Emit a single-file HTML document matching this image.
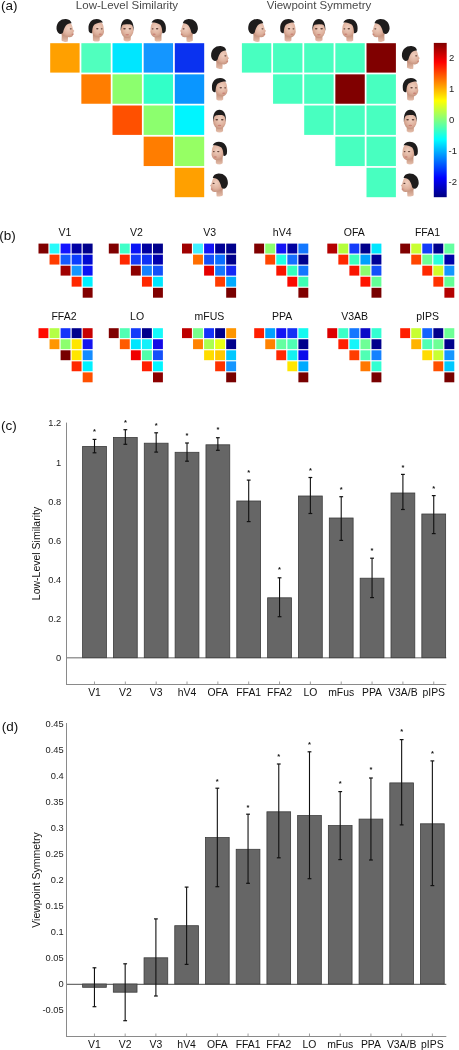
<!DOCTYPE html>
<html><head><meta charset="utf-8"><title>Figure</title>
<style>
html,body{margin:0;padding:0;background:#fff;}
body{width:459px;height:1050px;overflow:hidden;}
svg{display:block;font-family:"Liberation Sans", Arial, sans-serif;}
</style></head>
<body>
<svg width="459" height="1050" viewBox="0 0 459 1050">
<rect width="459" height="1050" fill="#fff"/>
<text x="0.90" y="9.70" font-size="13.5" text-anchor="start" fill="#111" >(a)</text>
<text x="-0.80" y="240.00" font-size="13.5" text-anchor="start" fill="#111" >(b)</text>
<text x="0.90" y="429.70" font-size="13.5" text-anchor="start" fill="#111" >(c)</text>
<text x="1.80" y="731.30" font-size="13.5" text-anchor="start" fill="#111" >(d)</text>
<defs><radialGradient id="skinG" cx="0.55" cy="0.4" r="0.65"><stop offset="0" stop-color="#f0d0c0"/><stop offset="0.6" stop-color="#dfb29e"/><stop offset="1" stop-color="#c18d78"/></radialGradient><linearGradient id="neckG" x1="0" y1="0" x2="0" y2="1"><stop offset="0" stop-color="#bb8670"/><stop offset="1" stop-color="#e6bfac"/></linearGradient></defs>
<text x="127.00" y="9.20" font-size="11.5" text-anchor="middle" fill="#4a4a4a" >Low-Level Similarity</text>
<text x="319.00" y="9.20" font-size="11.5" text-anchor="middle" fill="#4a4a4a" >Viewpoint Symmetry</text>
<rect x="50.20" y="43.20" width="29.40" height="29.40" fill="rgb(255,160,0)" />
<rect x="81.35" y="43.20" width="29.40" height="29.40" fill="rgb(80,255,190)" />
<rect x="112.50" y="43.20" width="29.40" height="29.40" fill="rgb(0,230,255)" />
<rect x="143.65" y="43.20" width="29.40" height="29.40" fill="rgb(20,150,255)" />
<rect x="174.80" y="43.20" width="29.40" height="29.40" fill="rgb(10,50,240)" />
<rect x="81.35" y="74.35" width="29.40" height="29.40" fill="rgb(255,125,0)" />
<rect x="112.50" y="74.35" width="29.40" height="29.40" fill="rgb(140,255,110)" />
<rect x="143.65" y="74.35" width="29.40" height="29.40" fill="rgb(50,255,200)" />
<rect x="174.80" y="74.35" width="29.40" height="29.40" fill="rgb(10,150,255)" />
<rect x="112.50" y="105.50" width="29.40" height="29.40" fill="rgb(255,80,0)" />
<rect x="143.65" y="105.50" width="29.40" height="29.40" fill="rgb(140,255,110)" />
<rect x="174.80" y="105.50" width="29.40" height="29.40" fill="rgb(0,245,255)" />
<rect x="143.65" y="136.65" width="29.40" height="29.40" fill="rgb(255,125,0)" />
<rect x="174.80" y="136.65" width="29.40" height="29.40" fill="rgb(150,255,100)" />
<rect x="174.80" y="167.80" width="29.40" height="29.40" fill="rgb(255,160,0)" />
<g transform="translate(56.50,18.90) scale(1.05)"><path d="M4.6,13.5 L9.5,15.5 L11,16.5 L10.8,21.6 C9,22.3 6.5,21.8 4.8,20.5 L5,16 Z" fill="url(#neckG)"/><path d="M5,5 C8,2 13,2.5 14.5,5.5 C15.3,7.5 15.5,9 15.8,10 L17,11.6 L16,12.5 L16.3,14 L15.8,14.6 C16,16.5 14,17.8 12,17.5 C10,17.3 8,16.5 6.5,15.5 C4.6,14.2 4,9 5,5 Z" fill="url(#skinG)"/><path d="M0,9 C0,3 4,-0.2 9,0 C12,0.2 14,1.8 14.4,4.2 C12,4 10,4.8 8.8,6.6 C7.6,8.4 6.8,10.5 6.4,12.2 C5.8,14.6 3.2,15 1.6,13.2 C0.6,12 0,10.5 0,9 Z" fill="#1e1c1c"/><ellipse cx="13.6" cy="9.4" rx="1" ry="0.6" fill="#5e3e34"/><ellipse cx="15.4" cy="14.8" rx="0.9" ry="0.6" fill="#c98276"/></g>
<g transform="translate(87.65,18.90) scale(1.05)"><path d="M5,14 L5,20.5 C7,22 10,22 11.5,20.5 L11.5,16 Z" fill="url(#neckG)"/><path d="M3.5,7 C4,3 8,2 11,2.5 C14,3 15.3,6 15.3,9.5 L15.6,12 C15.3,15 13.5,17.5 11,17.5 C8,17.5 5,15.5 4,12.5 C3.5,11 3.4,9 3.5,7 Z" fill="url(#skinG)"/><path d="M0.8,9 C0.6,3 4.5,0 8.5,0 C11.5,0 13.8,1.5 14.5,3.5 C12,3.4 8.5,3.8 6.2,5.6 C4.8,7 4.4,10 4.2,13.4 C2.8,14 1.4,12.8 1,11.5 Z" fill="#1e1c1c"/><ellipse cx="9.2" cy="9.4" rx="1.2" ry="0.65" fill="#5e3e34"/><ellipse cx="13.4" cy="9.4" rx="0.9" ry="0.6" fill="#5e3e34"/><ellipse cx="12" cy="14.6" rx="1.5" ry="0.65" fill="#c98276"/></g>
<g transform="translate(118.80,18.90) scale(1.05)"><path d="M4.6,14 L4.6,20.4 C6.5,21.9 9.5,21.9 11.4,20.4 L11.4,14 Z" fill="url(#neckG)"/><ellipse cx="8" cy="10.6" rx="6.1" ry="7.7" fill="url(#skinG)"/><path d="M1.9,11.5 C1.4,4 4,0 8,0 C12,0 14.6,4 14.1,11.5 C13.6,8.2 13.2,6.2 12,5.6 C10,4.8 6,4.8 4,5.6 C2.8,6.2 2.4,8.2 1.9,11.5 Z" fill="#1e1c1c"/><ellipse cx="5.4" cy="9.4" rx="1.3" ry="0.7" fill="#5e3e34"/><ellipse cx="10.6" cy="9.4" rx="1.3" ry="0.7" fill="#5e3e34"/><ellipse cx="8" cy="15" rx="1.8" ry="0.7" fill="#c98276"/></g>
<g transform="translate(149.95,18.90) scale(1.05)"><g transform="translate(16,0) scale(-1,1)"><path d="M5,14 L5,20.5 C7,22 10,22 11.5,20.5 L11.5,16 Z" fill="url(#neckG)"/><path d="M3.5,7 C4,3 8,2 11,2.5 C14,3 15.3,6 15.3,9.5 L15.6,12 C15.3,15 13.5,17.5 11,17.5 C8,17.5 5,15.5 4,12.5 C3.5,11 3.4,9 3.5,7 Z" fill="url(#skinG)"/><path d="M0.8,9 C0.6,3 4.5,0 8.5,0 C11.5,0 13.8,1.5 14.5,3.5 C12,3.4 8.5,3.8 6.2,5.6 C4.8,7 4.4,10 4.2,13.4 C2.8,14 1.4,12.8 1,11.5 Z" fill="#1e1c1c"/><ellipse cx="9.2" cy="9.4" rx="1.2" ry="0.65" fill="#5e3e34"/><ellipse cx="13.4" cy="9.4" rx="0.9" ry="0.6" fill="#5e3e34"/><ellipse cx="12" cy="14.6" rx="1.5" ry="0.65" fill="#c98276"/></g></g>
<g transform="translate(181.10,18.90) scale(1.05)"><g transform="translate(16,0) scale(-1,1)"><path d="M4.6,13.5 L9.5,15.5 L11,16.5 L10.8,21.6 C9,22.3 6.5,21.8 4.8,20.5 L5,16 Z" fill="url(#neckG)"/><path d="M5,5 C8,2 13,2.5 14.5,5.5 C15.3,7.5 15.5,9 15.8,10 L17,11.6 L16,12.5 L16.3,14 L15.8,14.6 C16,16.5 14,17.8 12,17.5 C10,17.3 8,16.5 6.5,15.5 C4.6,14.2 4,9 5,5 Z" fill="url(#skinG)"/><path d="M0,9 C0,3 4,-0.2 9,0 C12,0.2 14,1.8 14.4,4.2 C12,4 10,4.8 8.8,6.6 C7.6,8.4 6.8,10.5 6.4,12.2 C5.8,14.6 3.2,15 1.6,13.2 C0.6,12 0,10.5 0,9 Z" fill="#1e1c1c"/><ellipse cx="13.6" cy="9.4" rx="1" ry="0.6" fill="#5e3e34"/><ellipse cx="15.4" cy="14.8" rx="0.9" ry="0.6" fill="#c98276"/></g></g>
<g transform="translate(211.10,46.00) scale(1.05)"><path d="M4.6,13.5 L9.5,15.5 L11,16.5 L10.8,21.6 C9,22.3 6.5,21.8 4.8,20.5 L5,16 Z" fill="url(#neckG)"/><path d="M5,5 C8,2 13,2.5 14.5,5.5 C15.3,7.5 15.5,9 15.8,10 L17,11.6 L16,12.5 L16.3,14 L15.8,14.6 C16,16.5 14,17.8 12,17.5 C10,17.3 8,16.5 6.5,15.5 C4.6,14.2 4,9 5,5 Z" fill="url(#skinG)"/><path d="M0,9 C0,3 4,-0.2 9,0 C12,0.2 14,1.8 14.4,4.2 C12,4 10,4.8 8.8,6.6 C7.6,8.4 6.8,10.5 6.4,12.2 C5.8,14.6 3.2,15 1.6,13.2 C0.6,12 0,10.5 0,9 Z" fill="#1e1c1c"/><ellipse cx="13.6" cy="9.4" rx="1" ry="0.6" fill="#5e3e34"/><ellipse cx="15.4" cy="14.8" rx="0.9" ry="0.6" fill="#c98276"/></g>
<g transform="translate(211.10,77.90) scale(1.05)"><path d="M5,14 L5,20.5 C7,22 10,22 11.5,20.5 L11.5,16 Z" fill="url(#neckG)"/><path d="M3.5,7 C4,3 8,2 11,2.5 C14,3 15.3,6 15.3,9.5 L15.6,12 C15.3,15 13.5,17.5 11,17.5 C8,17.5 5,15.5 4,12.5 C3.5,11 3.4,9 3.5,7 Z" fill="url(#skinG)"/><path d="M0.8,9 C0.6,3 4.5,0 8.5,0 C11.5,0 13.8,1.5 14.5,3.5 C12,3.4 8.5,3.8 6.2,5.6 C4.8,7 4.4,10 4.2,13.4 C2.8,14 1.4,12.8 1,11.5 Z" fill="#1e1c1c"/><ellipse cx="9.2" cy="9.4" rx="1.2" ry="0.65" fill="#5e3e34"/><ellipse cx="13.4" cy="9.4" rx="0.9" ry="0.6" fill="#5e3e34"/><ellipse cx="12" cy="14.6" rx="1.5" ry="0.65" fill="#c98276"/></g>
<g transform="translate(211.10,109.80) scale(1.05)"><path d="M4.6,14 L4.6,20.4 C6.5,21.9 9.5,21.9 11.4,20.4 L11.4,14 Z" fill="url(#neckG)"/><ellipse cx="8" cy="10.6" rx="6.1" ry="7.7" fill="url(#skinG)"/><path d="M1.9,11.5 C1.4,4 4,0 8,0 C12,0 14.6,4 14.1,11.5 C13.6,8.2 13.2,6.2 12,5.6 C10,4.8 6,4.8 4,5.6 C2.8,6.2 2.4,8.2 1.9,11.5 Z" fill="#1e1c1c"/><ellipse cx="5.4" cy="9.4" rx="1.3" ry="0.7" fill="#5e3e34"/><ellipse cx="10.6" cy="9.4" rx="1.3" ry="0.7" fill="#5e3e34"/><ellipse cx="8" cy="15" rx="1.8" ry="0.7" fill="#c98276"/></g>
<g transform="translate(211.10,141.70) scale(1.05)"><g transform="translate(16,0) scale(-1,1)"><path d="M5,14 L5,20.5 C7,22 10,22 11.5,20.5 L11.5,16 Z" fill="url(#neckG)"/><path d="M3.5,7 C4,3 8,2 11,2.5 C14,3 15.3,6 15.3,9.5 L15.6,12 C15.3,15 13.5,17.5 11,17.5 C8,17.5 5,15.5 4,12.5 C3.5,11 3.4,9 3.5,7 Z" fill="url(#skinG)"/><path d="M0.8,9 C0.6,3 4.5,0 8.5,0 C11.5,0 13.8,1.5 14.5,3.5 C12,3.4 8.5,3.8 6.2,5.6 C4.8,7 4.4,10 4.2,13.4 C2.8,14 1.4,12.8 1,11.5 Z" fill="#1e1c1c"/><ellipse cx="9.2" cy="9.4" rx="1.2" ry="0.65" fill="#5e3e34"/><ellipse cx="13.4" cy="9.4" rx="0.9" ry="0.6" fill="#5e3e34"/><ellipse cx="12" cy="14.6" rx="1.5" ry="0.65" fill="#c98276"/></g></g>
<g transform="translate(211.10,173.60) scale(1.05)"><g transform="translate(16,0) scale(-1,1)"><path d="M4.6,13.5 L9.5,15.5 L11,16.5 L10.8,21.6 C9,22.3 6.5,21.8 4.8,20.5 L5,16 Z" fill="url(#neckG)"/><path d="M5,5 C8,2 13,2.5 14.5,5.5 C15.3,7.5 15.5,9 15.8,10 L17,11.6 L16,12.5 L16.3,14 L15.8,14.6 C16,16.5 14,17.8 12,17.5 C10,17.3 8,16.5 6.5,15.5 C4.6,14.2 4,9 5,5 Z" fill="url(#skinG)"/><path d="M0,9 C0,3 4,-0.2 9,0 C12,0.2 14,1.8 14.4,4.2 C12,4 10,4.8 8.8,6.6 C7.6,8.4 6.8,10.5 6.4,12.2 C5.8,14.6 3.2,15 1.6,13.2 C0.6,12 0,10.5 0,9 Z" fill="#1e1c1c"/><ellipse cx="13.6" cy="9.4" rx="1" ry="0.6" fill="#5e3e34"/><ellipse cx="15.4" cy="14.8" rx="0.9" ry="0.6" fill="#c98276"/></g></g>
<rect x="241.90" y="43.20" width="29.40" height="29.40" fill="rgb(72,255,192)" />
<rect x="273.05" y="43.20" width="29.40" height="29.40" fill="rgb(72,255,192)" />
<rect x="304.20" y="43.20" width="29.40" height="29.40" fill="rgb(72,255,192)" />
<rect x="335.35" y="43.20" width="29.40" height="29.40" fill="rgb(72,255,192)" />
<rect x="366.50" y="43.20" width="29.40" height="29.40" fill="rgb(128,0,0)" />
<rect x="273.05" y="74.35" width="29.40" height="29.40" fill="rgb(72,255,192)" />
<rect x="304.20" y="74.35" width="29.40" height="29.40" fill="rgb(72,255,192)" />
<rect x="335.35" y="74.35" width="29.40" height="29.40" fill="rgb(128,0,0)" />
<rect x="366.50" y="74.35" width="29.40" height="29.40" fill="rgb(72,255,192)" />
<rect x="304.20" y="105.50" width="29.40" height="29.40" fill="rgb(72,255,192)" />
<rect x="335.35" y="105.50" width="29.40" height="29.40" fill="rgb(72,255,192)" />
<rect x="366.50" y="105.50" width="29.40" height="29.40" fill="rgb(72,255,192)" />
<rect x="335.35" y="136.65" width="29.40" height="29.40" fill="rgb(72,255,192)" />
<rect x="366.50" y="136.65" width="29.40" height="29.40" fill="rgb(72,255,192)" />
<rect x="366.50" y="167.80" width="29.40" height="29.40" fill="rgb(72,255,192)" />
<g transform="translate(248.20,18.90) scale(1.05)"><path d="M4.6,13.5 L9.5,15.5 L11,16.5 L10.8,21.6 C9,22.3 6.5,21.8 4.8,20.5 L5,16 Z" fill="url(#neckG)"/><path d="M5,5 C8,2 13,2.5 14.5,5.5 C15.3,7.5 15.5,9 15.8,10 L17,11.6 L16,12.5 L16.3,14 L15.8,14.6 C16,16.5 14,17.8 12,17.5 C10,17.3 8,16.5 6.5,15.5 C4.6,14.2 4,9 5,5 Z" fill="url(#skinG)"/><path d="M0,9 C0,3 4,-0.2 9,0 C12,0.2 14,1.8 14.4,4.2 C12,4 10,4.8 8.8,6.6 C7.6,8.4 6.8,10.5 6.4,12.2 C5.8,14.6 3.2,15 1.6,13.2 C0.6,12 0,10.5 0,9 Z" fill="#1e1c1c"/><ellipse cx="13.6" cy="9.4" rx="1" ry="0.6" fill="#5e3e34"/><ellipse cx="15.4" cy="14.8" rx="0.9" ry="0.6" fill="#c98276"/></g>
<g transform="translate(279.35,18.90) scale(1.05)"><path d="M5,14 L5,20.5 C7,22 10,22 11.5,20.5 L11.5,16 Z" fill="url(#neckG)"/><path d="M3.5,7 C4,3 8,2 11,2.5 C14,3 15.3,6 15.3,9.5 L15.6,12 C15.3,15 13.5,17.5 11,17.5 C8,17.5 5,15.5 4,12.5 C3.5,11 3.4,9 3.5,7 Z" fill="url(#skinG)"/><path d="M0.8,9 C0.6,3 4.5,0 8.5,0 C11.5,0 13.8,1.5 14.5,3.5 C12,3.4 8.5,3.8 6.2,5.6 C4.8,7 4.4,10 4.2,13.4 C2.8,14 1.4,12.8 1,11.5 Z" fill="#1e1c1c"/><ellipse cx="9.2" cy="9.4" rx="1.2" ry="0.65" fill="#5e3e34"/><ellipse cx="13.4" cy="9.4" rx="0.9" ry="0.6" fill="#5e3e34"/><ellipse cx="12" cy="14.6" rx="1.5" ry="0.65" fill="#c98276"/></g>
<g transform="translate(310.50,18.90) scale(1.05)"><path d="M4.6,14 L4.6,20.4 C6.5,21.9 9.5,21.9 11.4,20.4 L11.4,14 Z" fill="url(#neckG)"/><ellipse cx="8" cy="10.6" rx="6.1" ry="7.7" fill="url(#skinG)"/><path d="M1.9,11.5 C1.4,4 4,0 8,0 C12,0 14.6,4 14.1,11.5 C13.6,8.2 13.2,6.2 12,5.6 C10,4.8 6,4.8 4,5.6 C2.8,6.2 2.4,8.2 1.9,11.5 Z" fill="#1e1c1c"/><ellipse cx="5.4" cy="9.4" rx="1.3" ry="0.7" fill="#5e3e34"/><ellipse cx="10.6" cy="9.4" rx="1.3" ry="0.7" fill="#5e3e34"/><ellipse cx="8" cy="15" rx="1.8" ry="0.7" fill="#c98276"/></g>
<g transform="translate(341.65,18.90) scale(1.05)"><g transform="translate(16,0) scale(-1,1)"><path d="M5,14 L5,20.5 C7,22 10,22 11.5,20.5 L11.5,16 Z" fill="url(#neckG)"/><path d="M3.5,7 C4,3 8,2 11,2.5 C14,3 15.3,6 15.3,9.5 L15.6,12 C15.3,15 13.5,17.5 11,17.5 C8,17.5 5,15.5 4,12.5 C3.5,11 3.4,9 3.5,7 Z" fill="url(#skinG)"/><path d="M0.8,9 C0.6,3 4.5,0 8.5,0 C11.5,0 13.8,1.5 14.5,3.5 C12,3.4 8.5,3.8 6.2,5.6 C4.8,7 4.4,10 4.2,13.4 C2.8,14 1.4,12.8 1,11.5 Z" fill="#1e1c1c"/><ellipse cx="9.2" cy="9.4" rx="1.2" ry="0.65" fill="#5e3e34"/><ellipse cx="13.4" cy="9.4" rx="0.9" ry="0.6" fill="#5e3e34"/><ellipse cx="12" cy="14.6" rx="1.5" ry="0.65" fill="#c98276"/></g></g>
<g transform="translate(372.80,18.90) scale(1.05)"><g transform="translate(16,0) scale(-1,1)"><path d="M4.6,13.5 L9.5,15.5 L11,16.5 L10.8,21.6 C9,22.3 6.5,21.8 4.8,20.5 L5,16 Z" fill="url(#neckG)"/><path d="M5,5 C8,2 13,2.5 14.5,5.5 C15.3,7.5 15.5,9 15.8,10 L17,11.6 L16,12.5 L16.3,14 L15.8,14.6 C16,16.5 14,17.8 12,17.5 C10,17.3 8,16.5 6.5,15.5 C4.6,14.2 4,9 5,5 Z" fill="url(#skinG)"/><path d="M0,9 C0,3 4,-0.2 9,0 C12,0.2 14,1.8 14.4,4.2 C12,4 10,4.8 8.8,6.6 C7.6,8.4 6.8,10.5 6.4,12.2 C5.8,14.6 3.2,15 1.6,13.2 C0.6,12 0,10.5 0,9 Z" fill="#1e1c1c"/><ellipse cx="13.6" cy="9.4" rx="1" ry="0.6" fill="#5e3e34"/><ellipse cx="15.4" cy="14.8" rx="0.9" ry="0.6" fill="#c98276"/></g></g>
<g transform="translate(401.90,46.00) scale(1.05)"><path d="M4.6,13.5 L9.5,15.5 L11,16.5 L10.8,21.6 C9,22.3 6.5,21.8 4.8,20.5 L5,16 Z" fill="url(#neckG)"/><path d="M5,5 C8,2 13,2.5 14.5,5.5 C15.3,7.5 15.5,9 15.8,10 L17,11.6 L16,12.5 L16.3,14 L15.8,14.6 C16,16.5 14,17.8 12,17.5 C10,17.3 8,16.5 6.5,15.5 C4.6,14.2 4,9 5,5 Z" fill="url(#skinG)"/><path d="M0,9 C0,3 4,-0.2 9,0 C12,0.2 14,1.8 14.4,4.2 C12,4 10,4.8 8.8,6.6 C7.6,8.4 6.8,10.5 6.4,12.2 C5.8,14.6 3.2,15 1.6,13.2 C0.6,12 0,10.5 0,9 Z" fill="#1e1c1c"/><ellipse cx="13.6" cy="9.4" rx="1" ry="0.6" fill="#5e3e34"/><ellipse cx="15.4" cy="14.8" rx="0.9" ry="0.6" fill="#c98276"/></g>
<g transform="translate(401.90,77.90) scale(1.05)"><path d="M5,14 L5,20.5 C7,22 10,22 11.5,20.5 L11.5,16 Z" fill="url(#neckG)"/><path d="M3.5,7 C4,3 8,2 11,2.5 C14,3 15.3,6 15.3,9.5 L15.6,12 C15.3,15 13.5,17.5 11,17.5 C8,17.5 5,15.5 4,12.5 C3.5,11 3.4,9 3.5,7 Z" fill="url(#skinG)"/><path d="M0.8,9 C0.6,3 4.5,0 8.5,0 C11.5,0 13.8,1.5 14.5,3.5 C12,3.4 8.5,3.8 6.2,5.6 C4.8,7 4.4,10 4.2,13.4 C2.8,14 1.4,12.8 1,11.5 Z" fill="#1e1c1c"/><ellipse cx="9.2" cy="9.4" rx="1.2" ry="0.65" fill="#5e3e34"/><ellipse cx="13.4" cy="9.4" rx="0.9" ry="0.6" fill="#5e3e34"/><ellipse cx="12" cy="14.6" rx="1.5" ry="0.65" fill="#c98276"/></g>
<g transform="translate(401.90,109.80) scale(1.05)"><path d="M4.6,14 L4.6,20.4 C6.5,21.9 9.5,21.9 11.4,20.4 L11.4,14 Z" fill="url(#neckG)"/><ellipse cx="8" cy="10.6" rx="6.1" ry="7.7" fill="url(#skinG)"/><path d="M1.9,11.5 C1.4,4 4,0 8,0 C12,0 14.6,4 14.1,11.5 C13.6,8.2 13.2,6.2 12,5.6 C10,4.8 6,4.8 4,5.6 C2.8,6.2 2.4,8.2 1.9,11.5 Z" fill="#1e1c1c"/><ellipse cx="5.4" cy="9.4" rx="1.3" ry="0.7" fill="#5e3e34"/><ellipse cx="10.6" cy="9.4" rx="1.3" ry="0.7" fill="#5e3e34"/><ellipse cx="8" cy="15" rx="1.8" ry="0.7" fill="#c98276"/></g>
<g transform="translate(401.90,141.70) scale(1.05)"><g transform="translate(16,0) scale(-1,1)"><path d="M5,14 L5,20.5 C7,22 10,22 11.5,20.5 L11.5,16 Z" fill="url(#neckG)"/><path d="M3.5,7 C4,3 8,2 11,2.5 C14,3 15.3,6 15.3,9.5 L15.6,12 C15.3,15 13.5,17.5 11,17.5 C8,17.5 5,15.5 4,12.5 C3.5,11 3.4,9 3.5,7 Z" fill="url(#skinG)"/><path d="M0.8,9 C0.6,3 4.5,0 8.5,0 C11.5,0 13.8,1.5 14.5,3.5 C12,3.4 8.5,3.8 6.2,5.6 C4.8,7 4.4,10 4.2,13.4 C2.8,14 1.4,12.8 1,11.5 Z" fill="#1e1c1c"/><ellipse cx="9.2" cy="9.4" rx="1.2" ry="0.65" fill="#5e3e34"/><ellipse cx="13.4" cy="9.4" rx="0.9" ry="0.6" fill="#5e3e34"/><ellipse cx="12" cy="14.6" rx="1.5" ry="0.65" fill="#c98276"/></g></g>
<g transform="translate(401.90,173.60) scale(1.05)"><g transform="translate(16,0) scale(-1,1)"><path d="M4.6,13.5 L9.5,15.5 L11,16.5 L10.8,21.6 C9,22.3 6.5,21.8 4.8,20.5 L5,16 Z" fill="url(#neckG)"/><path d="M5,5 C8,2 13,2.5 14.5,5.5 C15.3,7.5 15.5,9 15.8,10 L17,11.6 L16,12.5 L16.3,14 L15.8,14.6 C16,16.5 14,17.8 12,17.5 C10,17.3 8,16.5 6.5,15.5 C4.6,14.2 4,9 5,5 Z" fill="url(#skinG)"/><path d="M0,9 C0,3 4,-0.2 9,0 C12,0.2 14,1.8 14.4,4.2 C12,4 10,4.8 8.8,6.6 C7.6,8.4 6.8,10.5 6.4,12.2 C5.8,14.6 3.2,15 1.6,13.2 C0.6,12 0,10.5 0,9 Z" fill="#1e1c1c"/><ellipse cx="13.6" cy="9.4" rx="1" ry="0.6" fill="#5e3e34"/><ellipse cx="15.4" cy="14.8" rx="0.9" ry="0.6" fill="#c98276"/></g></g>
<defs><linearGradient id="jet" x1="0" y1="0" x2="0" y2="1"><stop offset="0" stop-color="#800000"/><stop offset="0.125" stop-color="#ff0000"/><stop offset="0.375" stop-color="#ffff00"/><stop offset="0.5" stop-color="#80ff80"/><stop offset="0.625" stop-color="#00ffff"/><stop offset="0.875" stop-color="#0000ff"/><stop offset="1" stop-color="#000080"/></linearGradient></defs>
<rect x="433.80" y="42.90" width="12.90" height="154.30" fill="url(#jet)" />
<text x="449.00" y="60.80" font-size="9.5" text-anchor="start" fill="#222" >2</text>
<text x="449.00" y="92.20" font-size="9.5" text-anchor="start" fill="#222" >1</text>
<text x="449.00" y="122.60" font-size="9.5" text-anchor="start" fill="#222" >0</text>
<text x="448.60" y="154.00" font-size="9.5" text-anchor="start" fill="#222" >-1</text>
<text x="448.60" y="184.70" font-size="9.5" text-anchor="start" fill="#222" >-2</text>
<rect x="38.50" y="243.60" width="9.90" height="9.90" fill="rgb(128,0,0)" />
<rect x="49.55" y="243.60" width="9.90" height="9.90" fill="rgb(40,250,250)" />
<rect x="60.60" y="243.60" width="9.90" height="9.90" fill="rgb(20,20,255)" />
<rect x="71.65" y="243.60" width="9.90" height="9.90" fill="rgb(0,0,165)" />
<rect x="82.70" y="243.60" width="9.90" height="9.90" fill="rgb(0,0,140)" />
<rect x="49.55" y="254.65" width="9.90" height="9.90" fill="rgb(255,60,0)" />
<rect x="60.60" y="254.65" width="9.90" height="9.90" fill="rgb(20,90,255)" />
<rect x="71.65" y="254.65" width="9.90" height="9.90" fill="rgb(10,60,255)" />
<rect x="82.70" y="254.65" width="9.90" height="9.90" fill="rgb(0,10,210)" />
<rect x="60.60" y="265.70" width="9.90" height="9.90" fill="rgb(160,0,0)" />
<rect x="71.65" y="265.70" width="9.90" height="9.90" fill="rgb(20,150,255)" />
<rect x="82.70" y="265.70" width="9.90" height="9.90" fill="rgb(10,20,245)" />
<rect x="71.65" y="276.75" width="9.90" height="9.90" fill="rgb(255,40,0)" />
<rect x="82.70" y="276.75" width="9.90" height="9.90" fill="rgb(0,240,255)" />
<rect x="82.70" y="287.80" width="9.90" height="9.90" fill="rgb(130,0,0)" />
<text x="64.80" y="235.90" font-size="10.5" text-anchor="middle" fill="#111" >V1</text>
<rect x="108.80" y="243.60" width="9.90" height="9.90" fill="rgb(128,0,0)" />
<rect x="119.85" y="243.60" width="9.90" height="9.90" fill="rgb(64,255,200)" />
<rect x="130.90" y="243.60" width="9.90" height="9.90" fill="rgb(10,20,245)" />
<rect x="141.95" y="243.60" width="9.90" height="9.90" fill="rgb(0,0,160)" />
<rect x="153.00" y="243.60" width="9.90" height="9.90" fill="rgb(0,0,140)" />
<rect x="119.85" y="254.65" width="9.90" height="9.90" fill="rgb(255,40,0)" />
<rect x="130.90" y="254.65" width="9.90" height="9.90" fill="rgb(20,60,250)" />
<rect x="141.95" y="254.65" width="9.90" height="9.90" fill="rgb(15,50,245)" />
<rect x="153.00" y="254.65" width="9.90" height="9.90" fill="rgb(0,0,175)" />
<rect x="130.90" y="265.70" width="9.90" height="9.90" fill="rgb(140,0,0)" />
<rect x="141.95" y="265.70" width="9.90" height="9.90" fill="rgb(20,130,255)" />
<rect x="153.00" y="265.70" width="9.90" height="9.90" fill="rgb(20,80,250)" />
<rect x="141.95" y="276.75" width="9.90" height="9.90" fill="rgb(255,40,0)" />
<rect x="153.00" y="276.75" width="9.90" height="9.90" fill="rgb(0,230,255)" />
<rect x="153.00" y="287.80" width="9.90" height="9.90" fill="rgb(128,0,0)" />
<text x="136.50" y="235.90" font-size="10.5" text-anchor="middle" fill="#111" >V2</text>
<rect x="182.00" y="243.60" width="9.90" height="9.90" fill="rgb(160,0,0)" />
<rect x="193.05" y="243.60" width="9.90" height="9.90" fill="rgb(64,240,255)" />
<rect x="204.10" y="243.60" width="9.90" height="9.90" fill="rgb(20,20,245)" />
<rect x="215.15" y="243.60" width="9.90" height="9.90" fill="rgb(0,0,150)" />
<rect x="226.20" y="243.60" width="9.90" height="9.90" fill="rgb(0,0,140)" />
<rect x="193.05" y="254.65" width="9.90" height="9.90" fill="rgb(255,110,0)" />
<rect x="204.10" y="254.65" width="9.90" height="9.90" fill="rgb(20,80,250)" />
<rect x="215.15" y="254.65" width="9.90" height="9.90" fill="rgb(10,110,255)" />
<rect x="226.20" y="254.65" width="9.90" height="9.90" fill="rgb(0,0,140)" />
<rect x="204.10" y="265.70" width="9.90" height="9.90" fill="rgb(230,0,0)" />
<rect x="215.15" y="265.70" width="9.90" height="9.90" fill="rgb(20,120,255)" />
<rect x="226.20" y="265.70" width="9.90" height="9.90" fill="rgb(20,40,245)" />
<rect x="215.15" y="276.75" width="9.90" height="9.90" fill="rgb(255,60,0)" />
<rect x="226.20" y="276.75" width="9.90" height="9.90" fill="rgb(0,170,255)" />
<rect x="226.20" y="287.80" width="9.90" height="9.90" fill="rgb(120,0,0)" />
<text x="209.70" y="235.90" font-size="10.5" text-anchor="middle" fill="#111" >V3</text>
<rect x="254.20" y="243.60" width="9.90" height="9.90" fill="rgb(128,0,0)" />
<rect x="265.25" y="243.60" width="9.90" height="9.90" fill="rgb(140,255,110)" />
<rect x="276.30" y="243.60" width="9.90" height="9.90" fill="rgb(20,20,245)" />
<rect x="287.35" y="243.60" width="9.90" height="9.90" fill="rgb(0,0,160)" />
<rect x="298.40" y="243.60" width="9.90" height="9.90" fill="rgb(20,120,255)" />
<rect x="265.25" y="254.65" width="9.90" height="9.90" fill="rgb(255,70,0)" />
<rect x="276.30" y="254.65" width="9.90" height="9.90" fill="rgb(30,255,230)" />
<rect x="287.35" y="254.65" width="9.90" height="9.90" fill="rgb(20,110,255)" />
<rect x="298.40" y="254.65" width="9.90" height="9.90" fill="rgb(0,0,140)" />
<rect x="276.30" y="265.70" width="9.90" height="9.90" fill="rgb(250,20,0)" />
<rect x="287.35" y="265.70" width="9.90" height="9.90" fill="rgb(50,255,190)" />
<rect x="298.40" y="265.70" width="9.90" height="9.90" fill="rgb(20,120,255)" />
<rect x="287.35" y="276.75" width="9.90" height="9.90" fill="rgb(250,10,0)" />
<rect x="298.40" y="276.75" width="9.90" height="9.90" fill="rgb(60,255,180)" />
<rect x="298.40" y="287.80" width="9.90" height="9.90" fill="rgb(128,0,0)" />
<text x="282.20" y="235.90" font-size="10.5" text-anchor="middle" fill="#111" >hV4</text>
<rect x="327.30" y="243.60" width="9.90" height="9.90" fill="rgb(180,0,0)" />
<rect x="338.35" y="243.60" width="9.90" height="9.90" fill="rgb(180,255,60)" />
<rect x="349.40" y="243.60" width="9.90" height="9.90" fill="rgb(20,60,250)" />
<rect x="360.45" y="243.60" width="9.90" height="9.90" fill="rgb(0,0,140)" />
<rect x="371.50" y="243.60" width="9.90" height="9.90" fill="rgb(0,230,255)" />
<rect x="338.35" y="254.65" width="9.90" height="9.90" fill="rgb(255,40,0)" />
<rect x="349.40" y="254.65" width="9.90" height="9.90" fill="rgb(60,255,190)" />
<rect x="360.45" y="254.65" width="9.90" height="9.90" fill="rgb(0,160,255)" />
<rect x="371.50" y="254.65" width="9.90" height="9.90" fill="rgb(0,0,150)" />
<rect x="349.40" y="265.70" width="9.90" height="9.90" fill="rgb(250,20,0)" />
<rect x="360.45" y="265.70" width="9.90" height="9.90" fill="rgb(140,255,110)" />
<rect x="371.50" y="265.70" width="9.90" height="9.90" fill="rgb(20,80,250)" />
<rect x="360.45" y="276.75" width="9.90" height="9.90" fill="rgb(255,20,0)" />
<rect x="371.50" y="276.75" width="9.90" height="9.90" fill="rgb(100,255,150)" />
<rect x="371.50" y="287.80" width="9.90" height="9.90" fill="rgb(120,0,0)" />
<text x="354.30" y="235.90" font-size="10.5" text-anchor="middle" fill="#111" >OFA</text>
<rect x="400.20" y="243.60" width="9.90" height="9.90" fill="rgb(128,0,0)" />
<rect x="411.25" y="243.60" width="9.90" height="9.90" fill="rgb(200,255,50)" />
<rect x="422.30" y="243.60" width="9.90" height="9.90" fill="rgb(20,60,250)" />
<rect x="433.35" y="243.60" width="9.90" height="9.90" fill="rgb(0,0,140)" />
<rect x="444.40" y="243.60" width="9.90" height="9.90" fill="rgb(100,255,160)" />
<rect x="411.25" y="254.65" width="9.90" height="9.90" fill="rgb(255,70,0)" />
<rect x="422.30" y="254.65" width="9.90" height="9.90" fill="rgb(110,255,150)" />
<rect x="433.35" y="254.65" width="9.90" height="9.90" fill="rgb(40,255,220)" />
<rect x="444.40" y="254.65" width="9.90" height="9.90" fill="rgb(0,0,170)" />
<rect x="422.30" y="265.70" width="9.90" height="9.90" fill="rgb(255,40,0)" />
<rect x="433.35" y="265.70" width="9.90" height="9.90" fill="rgb(210,255,40)" />
<rect x="444.40" y="265.70" width="9.90" height="9.90" fill="rgb(20,150,255)" />
<rect x="433.35" y="276.75" width="9.90" height="9.90" fill="rgb(255,50,0)" />
<rect x="444.40" y="276.75" width="9.90" height="9.90" fill="rgb(100,255,150)" />
<rect x="444.40" y="287.80" width="9.90" height="9.90" fill="rgb(180,0,0)" />
<text x="427.50" y="235.90" font-size="10.5" text-anchor="middle" fill="#111" >FFA1</text>
<rect x="38.50" y="328.20" width="9.90" height="9.90" fill="rgb(255,10,0)" />
<rect x="49.55" y="328.20" width="9.90" height="9.90" fill="rgb(180,255,70)" />
<rect x="60.60" y="328.20" width="9.90" height="9.90" fill="rgb(20,50,250)" />
<rect x="71.65" y="328.20" width="9.90" height="9.90" fill="rgb(0,0,140)" />
<rect x="82.70" y="328.20" width="9.90" height="9.90" fill="rgb(200,0,0)" />
<rect x="49.55" y="339.25" width="9.90" height="9.90" fill="rgb(255,150,0)" />
<rect x="60.60" y="339.25" width="9.90" height="9.90" fill="rgb(140,255,110)" />
<rect x="71.65" y="339.25" width="9.90" height="9.90" fill="rgb(255,230,0)" />
<rect x="82.70" y="339.25" width="9.90" height="9.90" fill="rgb(20,20,240)" />
<rect x="60.60" y="350.30" width="9.90" height="9.90" fill="rgb(120,0,0)" />
<rect x="71.65" y="350.30" width="9.90" height="9.90" fill="rgb(255,230,0)" />
<rect x="82.70" y="350.30" width="9.90" height="9.90" fill="rgb(20,140,255)" />
<rect x="71.65" y="361.35" width="9.90" height="9.90" fill="rgb(255,40,0)" />
<rect x="82.70" y="361.35" width="9.90" height="9.90" fill="rgb(0,240,255)" />
<rect x="82.70" y="372.40" width="9.90" height="9.90" fill="rgb(255,80,0)" />
<text x="64.00" y="320.40" font-size="10.5" text-anchor="middle" fill="#111" >FFA2</text>
<rect x="108.80" y="328.20" width="9.90" height="9.90" fill="rgb(128,0,0)" />
<rect x="119.85" y="328.20" width="9.90" height="9.90" fill="rgb(80,255,180)" />
<rect x="130.90" y="328.20" width="9.90" height="9.90" fill="rgb(20,60,250)" />
<rect x="141.95" y="328.20" width="9.90" height="9.90" fill="rgb(0,0,140)" />
<rect x="153.00" y="328.20" width="9.90" height="9.90" fill="rgb(20,250,250)" />
<rect x="119.85" y="339.25" width="9.90" height="9.90" fill="rgb(255,90,0)" />
<rect x="130.90" y="339.25" width="9.90" height="9.90" fill="rgb(0,230,255)" />
<rect x="141.95" y="339.25" width="9.90" height="9.90" fill="rgb(20,240,250)" />
<rect x="153.00" y="339.25" width="9.90" height="9.90" fill="rgb(20,10,230)" />
<rect x="130.90" y="350.30" width="9.90" height="9.90" fill="rgb(240,0,0)" />
<rect x="141.95" y="350.30" width="9.90" height="9.90" fill="rgb(80,255,170)" />
<rect x="153.00" y="350.30" width="9.90" height="9.90" fill="rgb(20,80,250)" />
<rect x="141.95" y="361.35" width="9.90" height="9.90" fill="rgb(255,30,0)" />
<rect x="153.00" y="361.35" width="9.90" height="9.90" fill="rgb(0,245,255)" />
<rect x="153.00" y="372.40" width="9.90" height="9.90" fill="rgb(140,0,0)" />
<text x="137.10" y="320.40" font-size="10.5" text-anchor="middle" fill="#111" >LO</text>
<rect x="182.00" y="328.20" width="9.90" height="9.90" fill="rgb(190,0,0)" />
<rect x="193.05" y="328.20" width="9.90" height="9.90" fill="rgb(120,255,140)" />
<rect x="204.10" y="328.20" width="9.90" height="9.90" fill="rgb(20,50,250)" />
<rect x="215.15" y="328.20" width="9.90" height="9.90" fill="rgb(0,0,140)" />
<rect x="226.20" y="328.20" width="9.90" height="9.90" fill="rgb(255,150,0)" />
<rect x="193.05" y="339.25" width="9.90" height="9.90" fill="rgb(255,130,0)" />
<rect x="204.10" y="339.25" width="9.90" height="9.90" fill="rgb(170,255,80)" />
<rect x="215.15" y="339.25" width="9.90" height="9.90" fill="rgb(230,255,20)" />
<rect x="226.20" y="339.25" width="9.90" height="9.90" fill="rgb(0,0,140)" />
<rect x="204.10" y="350.30" width="9.90" height="9.90" fill="rgb(255,220,0)" />
<rect x="215.15" y="350.30" width="9.90" height="9.90" fill="rgb(255,200,0)" />
<rect x="226.20" y="350.30" width="9.90" height="9.90" fill="rgb(0,200,255)" />
<rect x="215.15" y="361.35" width="9.90" height="9.90" fill="rgb(255,50,0)" />
<rect x="226.20" y="361.35" width="9.90" height="9.90" fill="rgb(20,150,255)" />
<rect x="226.20" y="372.40" width="9.90" height="9.90" fill="rgb(120,0,0)" />
<text x="209.40" y="320.40" font-size="10.5" text-anchor="middle" fill="#111" >mFUS</text>
<rect x="254.20" y="328.20" width="9.90" height="9.90" fill="rgb(255,30,0)" />
<rect x="265.25" y="328.20" width="9.90" height="9.90" fill="rgb(0,160,255)" />
<rect x="276.30" y="328.20" width="9.90" height="9.90" fill="rgb(20,20,245)" />
<rect x="287.35" y="328.20" width="9.90" height="9.90" fill="rgb(20,50,245)" />
<rect x="298.40" y="328.20" width="9.90" height="9.90" fill="rgb(20,250,240)" />
<rect x="265.25" y="339.25" width="9.90" height="9.90" fill="rgb(255,130,0)" />
<rect x="276.30" y="339.25" width="9.90" height="9.90" fill="rgb(100,255,160)" />
<rect x="287.35" y="339.25" width="9.90" height="9.90" fill="rgb(80,255,180)" />
<rect x="298.40" y="339.25" width="9.90" height="9.90" fill="rgb(0,0,140)" />
<rect x="276.30" y="350.30" width="9.90" height="9.90" fill="rgb(255,40,0)" />
<rect x="287.35" y="350.30" width="9.90" height="9.90" fill="rgb(20,240,240)" />
<rect x="298.40" y="350.30" width="9.90" height="9.90" fill="rgb(10,10,235)" />
<rect x="287.35" y="361.35" width="9.90" height="9.90" fill="rgb(255,230,0)" />
<rect x="298.40" y="361.35" width="9.90" height="9.90" fill="rgb(0,170,255)" />
<rect x="298.40" y="372.40" width="9.90" height="9.90" fill="rgb(120,0,0)" />
<text x="282.10" y="320.40" font-size="10.5" text-anchor="middle" fill="#111" >PPA</text>
<rect x="327.30" y="328.20" width="9.90" height="9.90" fill="rgb(220,0,0)" />
<rect x="338.35" y="328.20" width="9.90" height="9.90" fill="rgb(60,255,200)" />
<rect x="349.40" y="328.20" width="9.90" height="9.90" fill="rgb(20,120,255)" />
<rect x="360.45" y="328.20" width="9.90" height="9.90" fill="rgb(10,10,200)" />
<rect x="371.50" y="328.20" width="9.90" height="9.90" fill="rgb(50,255,210)" />
<rect x="338.35" y="339.25" width="9.90" height="9.90" fill="rgb(255,30,0)" />
<rect x="349.40" y="339.25" width="9.90" height="9.90" fill="rgb(20,245,250)" />
<rect x="360.45" y="339.25" width="9.90" height="9.90" fill="rgb(110,255,150)" />
<rect x="371.50" y="339.25" width="9.90" height="9.90" fill="rgb(0,0,140)" />
<rect x="349.40" y="350.30" width="9.90" height="9.90" fill="rgb(255,60,0)" />
<rect x="360.45" y="350.30" width="9.90" height="9.90" fill="rgb(80,255,180)" />
<rect x="371.50" y="350.30" width="9.90" height="9.90" fill="rgb(20,130,255)" />
<rect x="360.45" y="361.35" width="9.90" height="9.90" fill="rgb(255,120,0)" />
<rect x="371.50" y="361.35" width="9.90" height="9.90" fill="rgb(50,255,210)" />
<rect x="371.50" y="372.40" width="9.90" height="9.90" fill="rgb(120,0,0)" />
<text x="354.60" y="320.40" font-size="10.5" text-anchor="middle" fill="#111" >V3AB</text>
<rect x="400.20" y="328.20" width="9.90" height="9.90" fill="rgb(255,30,0)" />
<rect x="411.25" y="328.20" width="9.90" height="9.90" fill="rgb(200,255,50)" />
<rect x="422.30" y="328.20" width="9.90" height="9.90" fill="rgb(20,100,255)" />
<rect x="433.35" y="328.20" width="9.90" height="9.90" fill="rgb(0,0,140)" />
<rect x="444.40" y="328.20" width="9.90" height="9.90" fill="rgb(110,255,150)" />
<rect x="411.25" y="339.25" width="9.90" height="9.90" fill="rgb(255,180,0)" />
<rect x="422.30" y="339.25" width="9.90" height="9.90" fill="rgb(80,255,180)" />
<rect x="433.35" y="339.25" width="9.90" height="9.90" fill="rgb(110,255,150)" />
<rect x="444.40" y="339.25" width="9.90" height="9.90" fill="rgb(0,0,140)" />
<rect x="422.30" y="350.30" width="9.90" height="9.90" fill="rgb(255,220,0)" />
<rect x="433.35" y="350.30" width="9.90" height="9.90" fill="rgb(200,255,50)" />
<rect x="444.40" y="350.30" width="9.90" height="9.90" fill="rgb(20,150,255)" />
<rect x="433.35" y="361.35" width="9.90" height="9.90" fill="rgb(255,80,0)" />
<rect x="444.40" y="361.35" width="9.90" height="9.90" fill="rgb(0,200,255)" />
<rect x="444.40" y="372.40" width="9.90" height="9.90" fill="rgb(120,0,0)" />
<text x="427.60" y="320.40" font-size="10.5" text-anchor="middle" fill="#111" >pIPS</text>
<line x1="66.50" y1="657.70" x2="446.30" y2="657.70" stroke="#9a9a9a" stroke-width="1.5" />
<rect x="82.60" y="446.40" width="23.80" height="211.30" fill="#666666" stroke="#3c3c3c" stroke-width="0.8"/>
<rect x="113.44" y="437.50" width="23.80" height="220.20" fill="#666666" stroke="#3c3c3c" stroke-width="0.8"/>
<rect x="144.28" y="443.20" width="23.80" height="214.50" fill="#666666" stroke="#3c3c3c" stroke-width="0.8"/>
<rect x="175.12" y="452.30" width="23.80" height="205.40" fill="#666666" stroke="#3c3c3c" stroke-width="0.8"/>
<rect x="205.96" y="444.80" width="23.80" height="212.90" fill="#666666" stroke="#3c3c3c" stroke-width="0.8"/>
<rect x="236.80" y="501.00" width="23.80" height="156.70" fill="#666666" stroke="#3c3c3c" stroke-width="0.8"/>
<rect x="267.64" y="597.80" width="23.80" height="59.90" fill="#666666" stroke="#3c3c3c" stroke-width="0.8"/>
<rect x="298.48" y="496.00" width="23.80" height="161.70" fill="#666666" stroke="#3c3c3c" stroke-width="0.8"/>
<rect x="329.32" y="518.00" width="23.80" height="139.70" fill="#666666" stroke="#3c3c3c" stroke-width="0.8"/>
<rect x="360.16" y="578.20" width="23.80" height="79.50" fill="#666666" stroke="#3c3c3c" stroke-width="0.8"/>
<rect x="391.00" y="493.00" width="23.80" height="164.70" fill="#666666" stroke="#3c3c3c" stroke-width="0.8"/>
<rect x="421.84" y="514.00" width="23.80" height="143.70" fill="#666666" stroke="#3c3c3c" stroke-width="0.8"/>
<line x1="94.50" y1="439.40" x2="94.50" y2="452.80" stroke="#111" stroke-width="1.1" />
<line x1="92.60" y1="439.40" x2="96.40" y2="439.40" stroke="#111" stroke-width="1.2" />
<line x1="92.60" y1="452.80" x2="96.40" y2="452.80" stroke="#111" stroke-width="1.2" />
<text x="94.50" y="434.20" font-size="7.5" text-anchor="middle" fill="#111" font-weight="bold">*</text>
<line x1="94.50" y1="684.50" x2="94.50" y2="681.50" stroke="#888" stroke-width="0.8" />
<text x="94.50" y="695.60" font-size="10.4" text-anchor="middle" fill="#111" >V1</text>
<line x1="125.34" y1="429.70" x2="125.34" y2="444.30" stroke="#111" stroke-width="1.1" />
<line x1="123.44" y1="429.70" x2="127.24" y2="429.70" stroke="#111" stroke-width="1.2" />
<line x1="123.44" y1="444.30" x2="127.24" y2="444.30" stroke="#111" stroke-width="1.2" />
<text x="125.34" y="424.60" font-size="7.5" text-anchor="middle" fill="#111" font-weight="bold">*</text>
<line x1="125.34" y1="684.50" x2="125.34" y2="681.50" stroke="#888" stroke-width="0.8" />
<text x="125.34" y="695.60" font-size="10.4" text-anchor="middle" fill="#111" >V2</text>
<line x1="156.18" y1="432.80" x2="156.18" y2="452.10" stroke="#111" stroke-width="1.1" />
<line x1="154.28" y1="432.80" x2="158.08" y2="432.80" stroke="#111" stroke-width="1.2" />
<line x1="154.28" y1="452.10" x2="158.08" y2="452.10" stroke="#111" stroke-width="1.2" />
<text x="156.18" y="427.90" font-size="7.5" text-anchor="middle" fill="#111" font-weight="bold">*</text>
<line x1="156.18" y1="684.50" x2="156.18" y2="681.50" stroke="#888" stroke-width="0.8" />
<text x="156.18" y="695.60" font-size="10.4" text-anchor="middle" fill="#111" >V3</text>
<line x1="187.02" y1="443.00" x2="187.02" y2="461.20" stroke="#111" stroke-width="1.1" />
<line x1="185.12" y1="443.00" x2="188.92" y2="443.00" stroke="#111" stroke-width="1.2" />
<line x1="185.12" y1="461.20" x2="188.92" y2="461.20" stroke="#111" stroke-width="1.2" />
<text x="187.02" y="438.20" font-size="7.5" text-anchor="middle" fill="#111" font-weight="bold">*</text>
<line x1="187.02" y1="684.50" x2="187.02" y2="681.50" stroke="#888" stroke-width="0.8" />
<text x="187.02" y="695.60" font-size="10.4" text-anchor="middle" fill="#111" >hV4</text>
<line x1="217.86" y1="437.70" x2="217.86" y2="450.30" stroke="#111" stroke-width="1.1" />
<line x1="215.96" y1="437.70" x2="219.76" y2="437.70" stroke="#111" stroke-width="1.2" />
<line x1="215.96" y1="450.30" x2="219.76" y2="450.30" stroke="#111" stroke-width="1.2" />
<text x="217.86" y="431.90" font-size="7.5" text-anchor="middle" fill="#111" font-weight="bold">*</text>
<line x1="217.86" y1="684.50" x2="217.86" y2="681.50" stroke="#888" stroke-width="0.8" />
<text x="217.86" y="695.60" font-size="10.4" text-anchor="middle" fill="#111" >OFA</text>
<line x1="248.70" y1="480.10" x2="248.70" y2="521.60" stroke="#111" stroke-width="1.1" />
<line x1="246.80" y1="480.10" x2="250.60" y2="480.10" stroke="#111" stroke-width="1.2" />
<line x1="246.80" y1="521.60" x2="250.60" y2="521.60" stroke="#111" stroke-width="1.2" />
<text x="248.70" y="474.80" font-size="7.5" text-anchor="middle" fill="#111" font-weight="bold">*</text>
<line x1="248.70" y1="684.50" x2="248.70" y2="681.50" stroke="#888" stroke-width="0.8" />
<text x="248.70" y="695.60" font-size="10.4" text-anchor="middle" fill="#111" >FFA1</text>
<line x1="279.54" y1="577.80" x2="279.54" y2="616.70" stroke="#111" stroke-width="1.1" />
<line x1="277.64" y1="577.80" x2="281.44" y2="577.80" stroke="#111" stroke-width="1.2" />
<line x1="277.64" y1="616.70" x2="281.44" y2="616.70" stroke="#111" stroke-width="1.2" />
<text x="279.54" y="572.00" font-size="7.5" text-anchor="middle" fill="#111" font-weight="bold">*</text>
<line x1="279.54" y1="684.50" x2="279.54" y2="681.50" stroke="#888" stroke-width="0.8" />
<text x="279.54" y="695.60" font-size="10.4" text-anchor="middle" fill="#111" >FFA2</text>
<line x1="310.38" y1="477.50" x2="310.38" y2="513.50" stroke="#111" stroke-width="1.1" />
<line x1="308.48" y1="477.50" x2="312.28" y2="477.50" stroke="#111" stroke-width="1.2" />
<line x1="308.48" y1="513.50" x2="312.28" y2="513.50" stroke="#111" stroke-width="1.2" />
<text x="310.38" y="472.50" font-size="7.5" text-anchor="middle" fill="#111" font-weight="bold">*</text>
<line x1="310.38" y1="684.50" x2="310.38" y2="681.50" stroke="#888" stroke-width="0.8" />
<text x="310.38" y="695.60" font-size="10.4" text-anchor="middle" fill="#111" >LO</text>
<line x1="341.22" y1="496.70" x2="341.22" y2="540.40" stroke="#111" stroke-width="1.1" />
<line x1="339.32" y1="496.70" x2="343.12" y2="496.70" stroke="#111" stroke-width="1.2" />
<line x1="339.32" y1="540.40" x2="343.12" y2="540.40" stroke="#111" stroke-width="1.2" />
<text x="341.22" y="492.00" font-size="7.5" text-anchor="middle" fill="#111" font-weight="bold">*</text>
<line x1="341.22" y1="684.50" x2="341.22" y2="681.50" stroke="#888" stroke-width="0.8" />
<text x="341.22" y="695.60" font-size="10.4" text-anchor="middle" fill="#111" >mFus</text>
<line x1="372.06" y1="558.20" x2="372.06" y2="597.60" stroke="#111" stroke-width="1.1" />
<line x1="370.16" y1="558.20" x2="373.96" y2="558.20" stroke="#111" stroke-width="1.2" />
<line x1="370.16" y1="597.60" x2="373.96" y2="597.60" stroke="#111" stroke-width="1.2" />
<text x="372.06" y="552.90" font-size="7.5" text-anchor="middle" fill="#111" font-weight="bold">*</text>
<line x1="372.06" y1="684.50" x2="372.06" y2="681.50" stroke="#888" stroke-width="0.8" />
<text x="372.06" y="695.60" font-size="10.4" text-anchor="middle" fill="#111" >PPA</text>
<line x1="402.90" y1="474.40" x2="402.90" y2="509.50" stroke="#111" stroke-width="1.1" />
<line x1="401.00" y1="474.40" x2="404.80" y2="474.40" stroke="#111" stroke-width="1.2" />
<line x1="401.00" y1="509.50" x2="404.80" y2="509.50" stroke="#111" stroke-width="1.2" />
<text x="402.90" y="469.60" font-size="7.5" text-anchor="middle" fill="#111" font-weight="bold">*</text>
<line x1="402.90" y1="684.50" x2="402.90" y2="681.50" stroke="#888" stroke-width="0.8" />
<text x="402.90" y="695.60" font-size="10.4" text-anchor="middle" fill="#111" >V3A/B</text>
<line x1="433.74" y1="495.60" x2="433.74" y2="533.60" stroke="#111" stroke-width="1.1" />
<line x1="431.84" y1="495.60" x2="435.64" y2="495.60" stroke="#111" stroke-width="1.2" />
<line x1="431.84" y1="533.60" x2="435.64" y2="533.60" stroke="#111" stroke-width="1.2" />
<text x="433.74" y="490.60" font-size="7.5" text-anchor="middle" fill="#111" font-weight="bold">*</text>
<line x1="433.74" y1="684.50" x2="433.74" y2="681.50" stroke="#888" stroke-width="0.8" />
<text x="433.74" y="695.60" font-size="10.4" text-anchor="middle" fill="#111" >pIPS</text>
<line x1="66.50" y1="422.60" x2="66.50" y2="685.00" stroke="#8a8a8a" stroke-width="1" />
<line x1="66.00" y1="684.50" x2="446.30" y2="684.50" stroke="#8a8a8a" stroke-width="1" />
<text x="61.20" y="426.34" font-size="9.3" text-anchor="end" fill="#222" >1.2</text>
<text x="61.20" y="465.50" font-size="9.3" text-anchor="end" fill="#222" >1</text>
<text x="61.20" y="504.66" font-size="9.3" text-anchor="end" fill="#222" >0.8</text>
<text x="61.20" y="543.82" font-size="9.3" text-anchor="end" fill="#222" >0.6</text>
<text x="61.20" y="582.98" font-size="9.3" text-anchor="end" fill="#222" >0.4</text>
<text x="61.20" y="622.14" font-size="9.3" text-anchor="end" fill="#222" >0.2</text>
<text x="61.20" y="661.30" font-size="9.3" text-anchor="end" fill="#222" >0</text>
<text x="0.00" y="0.00" font-size="10.5" text-anchor="middle" fill="#111" transform="translate(40.4,553.5) rotate(-90)">Low-Level Similarity</text>
<line x1="66.50" y1="984.40" x2="446.30" y2="984.40" stroke="#6e6e6e" stroke-width="1.1" />
<rect x="82.60" y="984.00" width="23.70" height="3.30" fill="#666666" stroke="#3c3c3c" stroke-width="0.8"/>
<rect x="113.32" y="984.00" width="23.70" height="8.20" fill="#666666" stroke="#3c3c3c" stroke-width="0.8"/>
<rect x="144.04" y="957.80" width="23.70" height="26.20" fill="#666666" stroke="#3c3c3c" stroke-width="0.8"/>
<rect x="174.76" y="925.70" width="23.70" height="58.30" fill="#666666" stroke="#3c3c3c" stroke-width="0.8"/>
<rect x="205.48" y="837.60" width="23.70" height="146.40" fill="#666666" stroke="#3c3c3c" stroke-width="0.8"/>
<rect x="236.20" y="849.30" width="23.70" height="134.70" fill="#666666" stroke="#3c3c3c" stroke-width="0.8"/>
<rect x="266.92" y="811.80" width="23.70" height="172.20" fill="#666666" stroke="#3c3c3c" stroke-width="0.8"/>
<rect x="297.64" y="815.60" width="23.70" height="168.40" fill="#666666" stroke="#3c3c3c" stroke-width="0.8"/>
<rect x="328.36" y="825.60" width="23.70" height="158.40" fill="#666666" stroke="#3c3c3c" stroke-width="0.8"/>
<rect x="359.08" y="819.10" width="23.70" height="164.90" fill="#666666" stroke="#3c3c3c" stroke-width="0.8"/>
<rect x="389.80" y="782.90" width="23.70" height="201.10" fill="#666666" stroke="#3c3c3c" stroke-width="0.8"/>
<rect x="420.52" y="823.80" width="23.70" height="160.20" fill="#666666" stroke="#3c3c3c" stroke-width="0.8"/>
<line x1="94.45" y1="967.80" x2="94.45" y2="1006.70" stroke="#111" stroke-width="1.1" />
<line x1="92.55" y1="967.80" x2="96.35" y2="967.80" stroke="#111" stroke-width="1.2" />
<line x1="92.55" y1="1006.70" x2="96.35" y2="1006.70" stroke="#111" stroke-width="1.2" />
<line x1="94.45" y1="1036.50" x2="94.45" y2="1033.50" stroke="#888" stroke-width="0.8" />
<text x="94.45" y="1048.40" font-size="10.4" text-anchor="middle" fill="#111" >V1</text>
<line x1="125.17" y1="963.80" x2="125.17" y2="1020.70" stroke="#111" stroke-width="1.1" />
<line x1="123.27" y1="963.80" x2="127.07" y2="963.80" stroke="#111" stroke-width="1.2" />
<line x1="123.27" y1="1020.70" x2="127.07" y2="1020.70" stroke="#111" stroke-width="1.2" />
<line x1="125.17" y1="1036.50" x2="125.17" y2="1033.50" stroke="#888" stroke-width="0.8" />
<text x="125.17" y="1048.40" font-size="10.4" text-anchor="middle" fill="#111" >V2</text>
<line x1="155.89" y1="918.90" x2="155.89" y2="996.00" stroke="#111" stroke-width="1.1" />
<line x1="153.99" y1="918.90" x2="157.79" y2="918.90" stroke="#111" stroke-width="1.2" />
<line x1="153.99" y1="996.00" x2="157.79" y2="996.00" stroke="#111" stroke-width="1.2" />
<line x1="155.89" y1="1036.50" x2="155.89" y2="1033.50" stroke="#888" stroke-width="0.8" />
<text x="155.89" y="1048.40" font-size="10.4" text-anchor="middle" fill="#111" >V3</text>
<line x1="186.61" y1="887.10" x2="186.61" y2="964.40" stroke="#111" stroke-width="1.1" />
<line x1="184.71" y1="887.10" x2="188.51" y2="887.10" stroke="#111" stroke-width="1.2" />
<line x1="184.71" y1="964.40" x2="188.51" y2="964.40" stroke="#111" stroke-width="1.2" />
<line x1="186.61" y1="1036.50" x2="186.61" y2="1033.50" stroke="#888" stroke-width="0.8" />
<text x="186.61" y="1048.40" font-size="10.4" text-anchor="middle" fill="#111" >hV4</text>
<line x1="217.33" y1="788.20" x2="217.33" y2="886.70" stroke="#111" stroke-width="1.1" />
<line x1="215.43" y1="788.20" x2="219.23" y2="788.20" stroke="#111" stroke-width="1.2" />
<line x1="215.43" y1="886.70" x2="219.23" y2="886.70" stroke="#111" stroke-width="1.2" />
<text x="217.33" y="783.60" font-size="7.5" text-anchor="middle" fill="#111" font-weight="bold">*</text>
<line x1="217.33" y1="1036.50" x2="217.33" y2="1033.50" stroke="#888" stroke-width="0.8" />
<text x="217.33" y="1048.40" font-size="10.4" text-anchor="middle" fill="#111" >OFA</text>
<line x1="248.05" y1="814.20" x2="248.05" y2="883.30" stroke="#111" stroke-width="1.1" />
<line x1="246.15" y1="814.20" x2="249.95" y2="814.20" stroke="#111" stroke-width="1.2" />
<line x1="246.15" y1="883.30" x2="249.95" y2="883.30" stroke="#111" stroke-width="1.2" />
<text x="248.05" y="809.60" font-size="7.5" text-anchor="middle" fill="#111" font-weight="bold">*</text>
<line x1="248.05" y1="1036.50" x2="248.05" y2="1033.50" stroke="#888" stroke-width="0.8" />
<text x="248.05" y="1048.40" font-size="10.4" text-anchor="middle" fill="#111" >FFA1</text>
<line x1="278.77" y1="764.00" x2="278.77" y2="857.80" stroke="#111" stroke-width="1.1" />
<line x1="276.87" y1="764.00" x2="280.67" y2="764.00" stroke="#111" stroke-width="1.2" />
<line x1="276.87" y1="857.80" x2="280.67" y2="857.80" stroke="#111" stroke-width="1.2" />
<text x="278.77" y="759.20" font-size="7.5" text-anchor="middle" fill="#111" font-weight="bold">*</text>
<line x1="278.77" y1="1036.50" x2="278.77" y2="1033.50" stroke="#888" stroke-width="0.8" />
<text x="278.77" y="1048.40" font-size="10.4" text-anchor="middle" fill="#111" >FFA2</text>
<line x1="309.49" y1="751.80" x2="309.49" y2="878.70" stroke="#111" stroke-width="1.1" />
<line x1="307.59" y1="751.80" x2="311.39" y2="751.80" stroke="#111" stroke-width="1.2" />
<line x1="307.59" y1="878.70" x2="311.39" y2="878.70" stroke="#111" stroke-width="1.2" />
<text x="309.49" y="746.90" font-size="7.5" text-anchor="middle" fill="#111" font-weight="bold">*</text>
<line x1="309.49" y1="1036.50" x2="309.49" y2="1033.50" stroke="#888" stroke-width="0.8" />
<text x="309.49" y="1048.40" font-size="10.4" text-anchor="middle" fill="#111" >LO</text>
<line x1="340.21" y1="791.60" x2="340.21" y2="859.60" stroke="#111" stroke-width="1.1" />
<line x1="338.31" y1="791.60" x2="342.11" y2="791.60" stroke="#111" stroke-width="1.2" />
<line x1="338.31" y1="859.60" x2="342.11" y2="859.60" stroke="#111" stroke-width="1.2" />
<text x="340.21" y="786.30" font-size="7.5" text-anchor="middle" fill="#111" font-weight="bold">*</text>
<line x1="340.21" y1="1036.50" x2="340.21" y2="1033.50" stroke="#888" stroke-width="0.8" />
<text x="340.21" y="1048.40" font-size="10.4" text-anchor="middle" fill="#111" >mFus</text>
<line x1="370.93" y1="778.00" x2="370.93" y2="860.00" stroke="#111" stroke-width="1.1" />
<line x1="369.03" y1="778.00" x2="372.83" y2="778.00" stroke="#111" stroke-width="1.2" />
<line x1="369.03" y1="860.00" x2="372.83" y2="860.00" stroke="#111" stroke-width="1.2" />
<text x="370.93" y="771.80" font-size="7.5" text-anchor="middle" fill="#111" font-weight="bold">*</text>
<line x1="370.93" y1="1036.50" x2="370.93" y2="1033.50" stroke="#888" stroke-width="0.8" />
<text x="370.93" y="1048.40" font-size="10.4" text-anchor="middle" fill="#111" >PPA</text>
<line x1="401.65" y1="739.60" x2="401.65" y2="824.90" stroke="#111" stroke-width="1.1" />
<line x1="399.75" y1="739.60" x2="403.55" y2="739.60" stroke="#111" stroke-width="1.2" />
<line x1="399.75" y1="824.90" x2="403.55" y2="824.90" stroke="#111" stroke-width="1.2" />
<text x="401.65" y="733.80" font-size="7.5" text-anchor="middle" fill="#111" font-weight="bold">*</text>
<line x1="401.65" y1="1036.50" x2="401.65" y2="1033.50" stroke="#888" stroke-width="0.8" />
<text x="401.65" y="1048.40" font-size="10.4" text-anchor="middle" fill="#111" >V3A/B</text>
<line x1="432.37" y1="760.90" x2="432.37" y2="885.60" stroke="#111" stroke-width="1.1" />
<line x1="430.47" y1="760.90" x2="434.27" y2="760.90" stroke="#111" stroke-width="1.2" />
<line x1="430.47" y1="885.60" x2="434.27" y2="885.60" stroke="#111" stroke-width="1.2" />
<text x="432.37" y="755.80" font-size="7.5" text-anchor="middle" fill="#111" font-weight="bold">*</text>
<line x1="432.37" y1="1036.50" x2="432.37" y2="1033.50" stroke="#888" stroke-width="0.8" />
<text x="432.37" y="1048.40" font-size="10.4" text-anchor="middle" fill="#111" >pIPS</text>
<line x1="66.50" y1="723.00" x2="66.50" y2="1037.00" stroke="#8a8a8a" stroke-width="1" />
<line x1="66.00" y1="1036.50" x2="446.30" y2="1036.50" stroke="#8a8a8a" stroke-width="1" />
<text x="63.70" y="726.85" font-size="9.3" text-anchor="end" fill="#222" >0.45</text>
<text x="63.70" y="752.85" font-size="9.3" text-anchor="end" fill="#222" >0.45</text>
<text x="63.70" y="778.85" font-size="9.3" text-anchor="end" fill="#222" >0.4</text>
<text x="63.70" y="804.85" font-size="9.3" text-anchor="end" fill="#222" >0.35</text>
<text x="63.70" y="830.85" font-size="9.3" text-anchor="end" fill="#222" >0.3</text>
<text x="63.70" y="856.85" font-size="9.3" text-anchor="end" fill="#222" >0.25</text>
<text x="63.70" y="882.85" font-size="9.3" text-anchor="end" fill="#222" >0.2</text>
<text x="63.70" y="908.85" font-size="9.3" text-anchor="end" fill="#222" >0.15</text>
<text x="63.70" y="934.85" font-size="9.3" text-anchor="end" fill="#222" >0.1</text>
<text x="63.70" y="960.85" font-size="9.3" text-anchor="end" fill="#222" >0.05</text>
<text x="63.70" y="986.85" font-size="9.3" text-anchor="end" fill="#222" >0</text>
<text x="63.70" y="1012.85" font-size="9.3" text-anchor="end" fill="#222" >-0.05</text>
<text x="0.00" y="0.00" font-size="10.5" text-anchor="middle" fill="#111" transform="translate(40.4,880.0) rotate(-90)">Viewpoint Symmetry</text>
</svg>
</body></html>
